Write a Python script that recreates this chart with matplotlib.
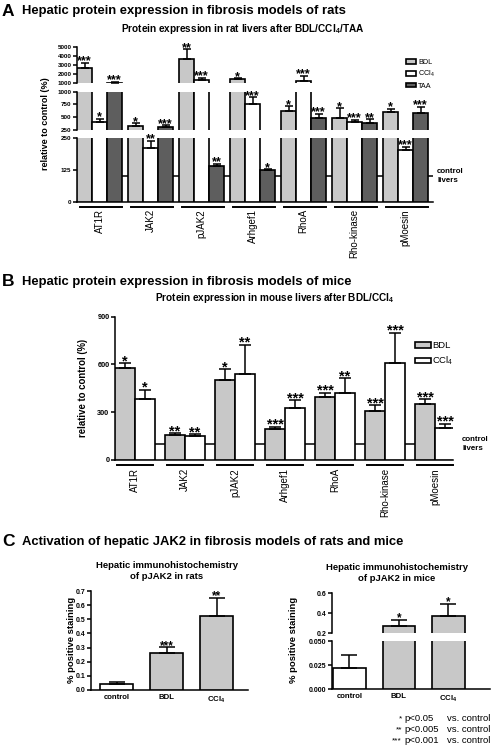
import numpy as np
import matplotlib
matplotlib.use("Agg")
import matplotlib.pyplot as plt
import matplotlib.transforms as mtransforms
from matplotlib.patches import Patch

plt.rcParams["font.family"] = ["Liberation Sans", "DejaVu Sans"]
plt.rcParams["mathtext.fontset"] = "custom"
plt.rcParams["mathtext.rm"] = "Liberation Sans"
plt.rcParams["mathtext.bf"] = "Liberation Sans:bold"
plt.rcParams["axes.linewidth"] = 1.1

# ---------------------------------------------------------
# data
# ---------------------------------------------------------

proteins = ["AT1R", "JAK2", "pJAK2", "Arhgef1", "RhoA", "Rho-kinase", "pMoesin"]

# panel A: rats, % of control
rat_bdl = [2680, 328, 3640, 1437, 628, 479, 609]
rat_bdl_err = [540, 50, 1090, 110, 90, 196, 53]
rat_bdl_stars = ["***", "*", "**", "*", "*", "*", "*"]

rat_ccl4 = [412, 211, 1360, 759, 1284, 407, 202]
rat_ccl4_err = [60, 27, 250, 130, 560, 47, 13]
rat_ccl4_stars = ["*", "**", "***", "***", "***", "***", "***"]

rat_taa = [1080, 303, 140, 124, 479, 393, 583]
rat_taa_err = [70, 40, 8, 3, 84, 66, 120]
rat_taa_stars = ["***", "***", "**", "*", "***", "**", "***"]

# panel B: mice, % of control
mouse_bdl = [579, 156, 504, 194, 396, 308, 354]
mouse_bdl_err = [29, 11, 67, 14, 27, 36, 27]
mouse_bdl_stars = ["*", "**", "*", "***", "***", "***", "***"]

mouse_ccl4 = [385, 150, 542, 329, 423, 610, 202]
mouse_ccl4_err = [57, 12, 183, 46, 91, 190, 27]
mouse_ccl4_stars = ["*", "**", "**", "***", "**", "***", "***"]

# panel C: immunohistochemistry of pJAK2
ihc_groups = ["control", "BDL", r"CCl$_\mathbf{4}$"]
rat_ihc = [0.045, 0.264, 0.523]
rat_ihc_err = [0.013, 0.038, 0.130]
rat_ihc_stars = ["", "***", "**"]

mouse_ihc = [0.022, 0.276, 0.373]
mouse_ihc_err = [0.014, 0.057, 0.120]
mouse_ihc_stars = ["", "*", "*"]

LIGHT = "#c8c8c8"
DARK = "#5e5e5e"

W, H = 494, 750
fig = plt.figure(figsize=(W / 100, H / 100), dpi=100)


def px_axes(x0, y0, x1, y1):
    return fig.add_axes([x0 / W, 1 - y1 / H, (x1 - x0) / W, (y1 - y0) / H])


def fig_text(x, y, s, **kw):
    fig.text(x / W, 1 - y / H, s, **kw)


def style(ax, bottom=True, ticks=None, labels=None, lsize=4.5):
    ax.spines["top"].set_visible(False)
    ax.spines["right"].set_visible(False)
    if not bottom:
        ax.spines["bottom"].set_visible(False)
    ax.tick_params(axis="x", length=0, labelbottom=False)
    ax.tick_params(axis="y", length=3, width=1.1, pad=1)
    if ticks is not None:
        ax.set_yticks(ticks, labels, fontsize=lsize, fontweight="bold")
    ax.set_facecolor("none")


def bars(axes, x, vals, errs, width, color, cap):
    # draw each bar only on the axis segments where it is visible
    x = np.asarray(x, dtype=float)
    vals = np.asarray(vals, dtype=float)
    errs = np.asarray(errs, dtype=float)
    for ax in axes:
        lo, hi = ax.get_ylim()
        keep = vals > lo
        if keep.any():
            # in upper segments start the bar below the segment so no edge shows
            base = lo - (hi - lo) if lo > 0 else 0
            ax.bar(x[keep], vals[keep] - base, width, bottom=base, color=color,
                   edgecolor="black", linewidth=1.2, zorder=3)
        keep_e = vals + errs > lo
        if keep_e.any():
            v = np.maximum(vals[keep_e], lo)
            ax.errorbar(x[keep_e], v, yerr=[np.zeros(keep_e.sum()), vals[keep_e] + errs[keep_e] - v],
                        fmt="none", ecolor="black", elinewidth=1.1, capsize=cap,
                        capthick=1.1, zorder=4)


def stars(ax, x, top, s, size):
    if s:
        ax.annotate(s, (x, top), xytext=(0, -0.13 * size), textcoords="offset points",
                    ha="center", va="baseline", fontsize=size, fontweight="bold",
                    annotation_clip=False)


def groups(ax, names, half_l, half_r, line_y, label_y, size=7):
    trans = mtransforms.blended_transform_factory(ax.transData, ax.transAxes)
    for i, name in enumerate(names):
        ax.plot([i - half_l, i + half_r], [line_y, line_y], transform=trans,
                clip_on=False, color="black", lw=1.4)
        ax.text(i, label_y, name, rotation=90, ha="center", va="top",
                transform=trans, fontsize=size)


# ---------------------------------------------------------
# panel A
# ---------------------------------------------------------

fig_text(2, 11, "A", fontsize=12.5, fontweight="bold", va="center")
fig_text(22, 11, "Hepatic protein expression in fibrosis models of rats",
         fontsize=9.4, fontweight="bold", va="center")
fig_text(243, 29.5, r"Protein expression in rat livers after BDL/CCl$_\mathbf{4}$/TAA",
         fontsize=7.2, fontweight="bold", va="center", ha="center")

bw = 15 / 51
xl = (-1.5 * bw, -1.5 * bw + (433 - 77) / 51)
a_top = px_axes(77, 46.7, 433, 83.3)
a_mid = px_axes(77, 91.7, 433, 130)
a_bot = px_axes(77, 137.7, 433, 201.7)
a_top.set_ylim(1000, 5000)
a_mid.set_ylim(250, 1000)
a_bot.set_ylim(0, 250)
style(a_top, False, [1000, 2000, 3000, 4000, 5000], ["1000", "2000", "3000", "4000", "5000"])
style(a_mid, False, [250, 500, 750, 1000], ["250", "500", "750", "1000"])
style(a_bot, True, [0, 125, 250], ["0", "125", "250"])
segs = [a_top, a_mid, a_bot]
for ax in segs:
    ax.set_xlim(*xl)

idx = np.arange(len(proteins))
a_bot.axhline(100, color="black", lw=1.1, zorder=1)
for off, vals, errs, col, sts in [(-bw, rat_bdl, rat_bdl_err, LIGHT, rat_bdl_stars),
                                  (0, rat_ccl4, rat_ccl4_err, "white", rat_ccl4_stars),
                                  (bw, rat_taa, rat_taa_err, DARK, rat_taa_stars)]:
    bars(segs, idx + off, vals, errs, bw, col, 3.2)
    for i in idx:
        top = vals[i] + errs[i]
        ax = a_top if top > 1000 else (a_mid if top > 250 else a_bot)
        stars(ax, i + off, top, sts[i], 9)

groups(a_bot, proteins, 0.38, 0.44, -5.3 / 64, -7.5 / 64)
fig_text(437, 176, "control\nlivers", fontsize=5.7, fontweight="bold",
         va="center", linespacing=1.25)
fig_text(45, 124, "relative to control (%)", fontsize=6.5, fontweight="bold",
         rotation=90, ha="center", va="center")

leg_a = [Patch(facecolor=LIGHT, edgecolor="black", lw=1.2, label="BDL"),
         Patch(facecolor="white", edgecolor="black", lw=1.2, label=r"CCl$_4$"),
         Patch(facecolor=DARK, edgecolor="black", lw=1.2, label="TAA")]
fig.legend(handles=leg_a, loc="upper left", bbox_to_anchor=(406 / W, 1 - 59 / H),
           frameon=False, fontsize=5.2, handlelength=1.35, handleheight=0.6,
           handletextpad=0.3, labelspacing=0.45, borderpad=0, borderaxespad=0)

# ---------------------------------------------------------
# panel B
# ---------------------------------------------------------

fig_text(2, 281.5, "B", fontsize=12.5, fontweight="bold", va="center")
fig_text(22, 281.5, "Hepatic protein expression in fibrosis models of mice",
         fontsize=9.4, fontweight="bold", va="center")
fig_text(275, 297.5, r"Protein expression in mouse livers after BDL/CCl$_\mathbf{4}$",
         fontsize=7.2, fontweight="bold", va="center", ha="center")

bwb = 0.4
b_ax = px_axes(115, 316.7, 453, 460)
b_ax.set_ylim(0, 900)
b_ax.set_xlim(-bwb, -bwb + (453 - 115) / 50)
style(b_ax, True, [0, 300, 600, 900], ["0", "300", "600", "900"], lsize=5.3)
b_ax.axhline(100, color="black", lw=1.1, zorder=1)
for off, vals, errs, col, sts in [(-bwb / 2, mouse_bdl, mouse_bdl_err, LIGHT, mouse_bdl_stars),
                                  (bwb / 2, mouse_ccl4, mouse_ccl4_err, "white", mouse_ccl4_stars)]:
    bars([b_ax], idx + off, vals, errs, bwb, col, 4.2)
    for i in idx:
        stars(b_ax, i + off, vals[i] + errs[i], sts[i], 10.5)

groups(b_ax, proteins, 0.36, 0.36, -5 / 143.3, -8 / 143.3)
fig_text(462, 444, "control\nlivers", fontsize=5.7, fontweight="bold",
         va="center", linespacing=1.25)
fig_text(83, 388, "relative to control (%)", fontsize=6.9, fontweight="bold",
         rotation=90, ha="center", va="center")

leg_b = [Patch(facecolor=LIGHT, edgecolor="black", lw=1.2, label="BDL"),
         Patch(facecolor="white", edgecolor="black", lw=1.2, label=r"CCl$_4$")]
fig.legend(handles=leg_b, loc="upper left", bbox_to_anchor=(415 / W, 1 - 341 / H),
           frameon=False, fontsize=6.8, handlelength=1.7, handleheight=0.55,
           handletextpad=0.15, labelspacing=0.5, borderpad=0, borderaxespad=0)

# ---------------------------------------------------------
# panel C
# ---------------------------------------------------------

fig_text(2, 542, "C", fontsize=12.5, fontweight="bold", va="center")
fig_text(22, 542, "Activation of hepatic JAK2 in fibrosis models of rats and mice",
         fontsize=9.4, fontweight="bold", va="center")
fig_text(167, 571, "Hepatic immunohistochemistry\nof pJAK2 in rats", fontsize=6.8,
         fontweight="bold", ha="center", va="center", linespacing=1.2)
fig_text(397, 573, "Hepatic immunohistochemistry\nof pJAK2 in mice", fontsize=6.8,
         fontweight="bold", ha="center", va="center", linespacing=1.2)

cx = np.arange(len(ihc_groups))
cw = 0.66
cols = ["white", LIGHT, LIGHT]

c_left = px_axes(91, 591, 248, 690)
c_left.set_ylim(0, 0.7)
c_left.set_xlim((91 - 116.5) / 50, (248 - 116.5) / 50)
ticks = np.round(np.arange(0, 0.71, 0.1), 1)
style(c_left, True, ticks, [f"{t:.1f}" for t in ticks], lsize=5)
for i in cx:
    bars([c_left], [i], [rat_ihc[i]], [rat_ihc_err[i]], cw, cols[i], 5.5)
    stars(c_left, i, rat_ihc[i] + rat_ihc_err[i], rat_ihc_stars[i], 8.5)
c_left.tick_params(axis="x", labelbottom=True, pad=3)
c_left.set_xticks(cx, ihc_groups, fontsize=5.6, fontweight="bold")
fig_text(71, 640, "% positive staining", fontsize=6.8, fontweight="bold",
         rotation=90, ha="center", va="center")

xr = ((331.7 - 349.4) / 49.5, (490 - 349.4) / 49.5)
c_rt = px_axes(331.7, 593.3, 490, 633.3)
c_rb = px_axes(331.7, 641, 490, 689.3)
c_rt.set_ylim(0.2, 0.6)
c_rb.set_ylim(0, 0.05)
style(c_rt, False, [0.2, 0.4, 0.6], ["0.2", "0.4", "0.6"], lsize=5)
style(c_rb, True, [0, 0.025, 0.05], ["0.000", "0.025", "0.050"], lsize=5)
for ax in (c_rt, c_rb):
    ax.set_xlim(*xr)
for i in cx:
    bars([c_rt, c_rb], [i], [mouse_ihc[i]], [mouse_ihc_err[i]], cw, cols[i], 5.5)
    top = mouse_ihc[i] + mouse_ihc_err[i]
    stars(c_rt if top > 0.2 else c_rb, i, top, mouse_ihc_stars[i], 8.5)
c_rb.tick_params(axis="x", labelbottom=True, pad=3)
c_rb.set_xticks(cx, ihc_groups, fontsize=5.6, fontweight="bold")
fig_text(293, 640, "% positive staining", fontsize=6.8, fontweight="bold",
         rotation=90, ha="center", va="center")

# significance footnote
notes = [("*", "p<0.05"), ("**", "p<0.005"), ("***", "p<0.001")]
for k, (s, p) in enumerate(notes):
    y = 718.5 + k * 11
    fig_text(402, y, s, fontsize=6, ha="right", va="center")
    fig_text(404, y, p, fontsize=6.8, ha="left", va="center")
    fig_text(447, y, "vs. control", fontsize=6.8, ha="left", va="center")

fig.savefig("out.png", dpi=100)
